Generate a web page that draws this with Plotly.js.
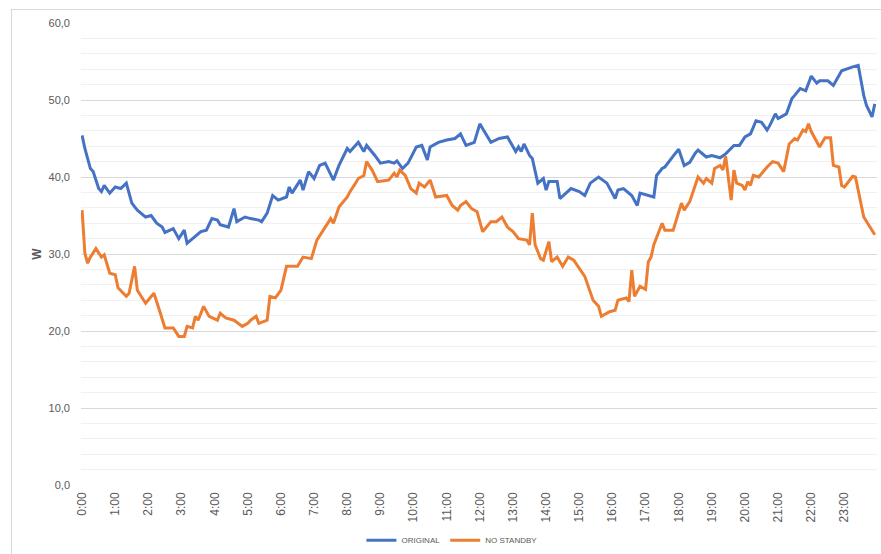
<!DOCTYPE html>
<html>
<head>
<meta charset="utf-8">
<script src="https://cdn.plot.ly/plotly-3.0.1.min.js"></script>
<style>
  html, body { margin: 0; padding: 0; background: #fff; }
  #frame { position: absolute; left: 11px; top: 9px; width: 880px; height: 560px; border: 1px solid #d9d9d9; box-sizing: border-box; }
  #chart { position: absolute; left: 0; top: 0; width: 881px; height: 554px; }
</style>
</head>
<body>
<div id="frame"></div>
<div id="chart"></div>
<script>
// Time of day in minutes since midnight
const timeOriginal = [0,5,15,20,30,35,40,50,60,70,80,90,100,115,125,135,145,150,165,175,185,190,200,215,225,235,245,250,265,275,280,295,305,320,325,335,345,355,370,375,380,395,400,410,420,430,440,455,465,480,485,500,510,515,530,540,555,565,570,580,590,605,615,625,630,645,660,675,685,695,710,720,725,740,755,770,785,790,795,800,810,815,825,835,840,845,860,865,885,900,910,920,935,950,965,970,980,995,1005,1010,1035,1040,1050,1055,1070,1080,1090,1100,1110,1115,1130,1140,1155,1165,1180,1190,1200,1210,1220,1230,1240,1245,1255,1260,1275,1285,1290,1300,1310,1320,1330,1335,1350,1360,1375,1385,1395,1405,1415,1420,1430,1435];
const original = [45.4,43.7,41.1,40.7,38.5,38.1,38.9,37.9,38.7,38.5,39.2,36.6,35.7,34.8,35.0,34.0,33.5,32.8,33.3,32.0,33.1,31.4,32.0,32.9,33.1,34.6,34.4,33.8,33.5,35.9,34.2,34.8,34.6,34.4,34.2,35.3,37.6,37.0,37.4,38.7,37.9,39.6,38.3,40.7,39.8,41.5,41.8,39.6,41.5,43.7,43.3,44.5,43.3,44.1,42.8,41.8,42.0,41.8,42.1,41.1,41.8,43.9,44.1,42.2,43.9,44.5,44.8,45.0,45.6,44.1,44.5,46.9,46.3,44.5,45.0,45.2,43.3,43.9,43.3,44.3,42.8,42.4,39.2,39.8,38.3,39.4,39.4,37.2,38.5,38.1,37.6,39.2,40.0,39.2,37.2,38.3,38.5,37.6,36.3,37.9,37.4,40.2,41.1,41.3,42.7,43.6,41.5,41.9,43.1,43.5,42.6,42.8,42.5,43.0,44.1,44.1,45.2,45.6,47.3,47.1,46.1,46.7,48.2,47.6,48.2,50.2,50.6,51.5,51.2,53.1,52.2,52.5,52.5,51.9,53.8,54.1,54.3,54.5,50.6,49.3,47.8,49.5];

const timeNoStandby = [0,5,10,15,25,35,40,50,60,65,80,85,95,100,115,130,140,150,165,175,185,190,200,205,210,220,230,245,250,260,275,290,300,305,315,320,335,340,350,360,370,390,400,415,425,440,450,455,465,480,485,495,500,510,515,525,535,555,565,570,575,585,595,605,610,620,630,640,660,670,680,685,695,705,715,725,740,750,760,770,780,790,805,810,815,820,830,835,845,850,860,870,880,890,905,910,925,935,940,955,965,970,985,990,995,1000,1010,1020,1025,1030,1035,1050,1055,1070,1085,1090,1100,1115,1125,1130,1140,1145,1155,1160,1165,1175,1180,1185,1195,1200,1205,1210,1215,1225,1240,1250,1260,1270,1280,1290,1295,1305,1310,1315,1320,1335,1345,1355,1360,1370,1375,1380,1395,1400,1415,1420,1435];
const noStandby = [35.7,30.1,28.8,29.6,30.7,29.6,29.9,27.5,27.3,25.6,24.5,24.9,28.4,25.3,23.6,24.9,22.7,20.4,20.4,19.3,19.3,20.6,20.4,21.9,21.4,23.2,21.9,21.4,22.3,21.7,21.4,20.6,21.0,21.4,21.9,21.0,21.4,24.5,24.3,25.3,28.4,28.4,29.6,29.4,31.8,33.5,34.6,34.0,36.1,37.4,38.1,39.2,39.8,40.2,42.0,40.9,39.4,39.6,40.5,40.0,40.9,40.2,38.5,37.9,39.2,38.7,39.6,37.4,37.6,36.3,35.7,36.3,36.8,35.9,35.5,32.9,34.2,34.2,34.8,33.5,32.9,32.0,31.8,31.2,35.3,31.2,29.4,29.2,31.6,29.0,29.6,28.4,29.6,29.2,27.5,27.1,24.0,23.2,21.9,22.5,22.7,24.0,24.3,23.8,27.9,24.5,25.8,25.4,29.0,29.6,31.2,34.0,33.1,33.1,36.6,35.7,36.8,40.0,39.2,39.8,39.2,41.1,41.5,40.9,42.7,37.0,40.9,39.2,38.9,38.3,39.4,38.9,40.2,40.0,41.3,42.0,41.8,40.7,44.3,45.0,44.8,46.1,45.9,46.9,45.9,43.9,45.1,45.1,41.5,41.3,38.9,38.7,40.1,40.0,34.8,34.2,32.5];

const hourTicks = [0,60,120,180,240,300,360,420,480,540,600,660,720,780,840,900,960,1020,1080,1140,1200,1260,1320,1380];
const hourLabels = ["0:00","1:00","2:00","3:00","4:00","5:00","6:00","7:00","8:00","9:00","10:00","11:00","12:00","13:00","14:00","15:00","16:00","17:00","18:00","19:00","20:00","21:00","22:00","23:00"];
const yTicks = [0,10,20,30,40,50,60];
const yLabels = ["0,0","10,0","20,0","30,0","40,0","50,0","60,0"];

const FONT = "Liberation Sans, Arial, sans-serif";

const traces = [
  { x: timeOriginal, y: original, name: "ORIGINAL", type: "scatter", mode: "lines",
    line: { color: "#4472C4", width: 3 } },
  { x: timeNoStandby, y: noStandby, name: "NO STANDBY", type: "scatter", mode: "lines",
    line: { color: "#ED7D31", width: 3 } }
];

const layout = {
  width: 881, height: 554,
  margin: { l: 81, r: 4, t: 22.5, b: 68.5, autoexpand: false },
  paper_bgcolor: "rgba(0,0,0,0)",
  plot_bgcolor: "rgba(0,0,0,0)",
  font: { family: FONT, color: "#595959", size: 11 },
  showlegend: true,
  legend: { orientation: "h", xref: "container", yref: "container",
            x: 0.513, xanchor: "center", y: 0.025, yanchor: "middle",
            font: { size: 8, color: "#595959" }, tracegroupgap: 0 },
  xaxis: {
    range: [-2, 1439], tickmode: "array", tickvals: hourTicks, ticktext: hourLabels,
    tickangle: -90, showgrid: false, zeroline: false, showline: false, ticks: "",
    ticklabelstandoff: 4, automargin: false,
    tickfont: { size: 12, color: "#595959" }, fixedrange: true
  },
  yaxis: {
    range: [0, 60], tickmode: "array", tickvals: yTicks, ticktext: yLabels,
    showgrid: true, gridcolor: "#d9d9d9", gridwidth: 1, zeroline: false, showline: false, ticks: "",
    ticklabelstandoff: 10, automargin: false,
    minor: { dtick: 2, showgrid: true, gridcolor: "#f0f0f0", gridwidth: 1 },
    tickfont: { size: 11, color: "#595959" },
    title: { text: "<b>W</b>", font: { size: 12, color: "#595959" }, standoff: 4 }
  }
};

Plotly.newPlot("chart", traces, layout, { displayModeBar: false, staticPlot: true });
</script>
</body>
</html>
